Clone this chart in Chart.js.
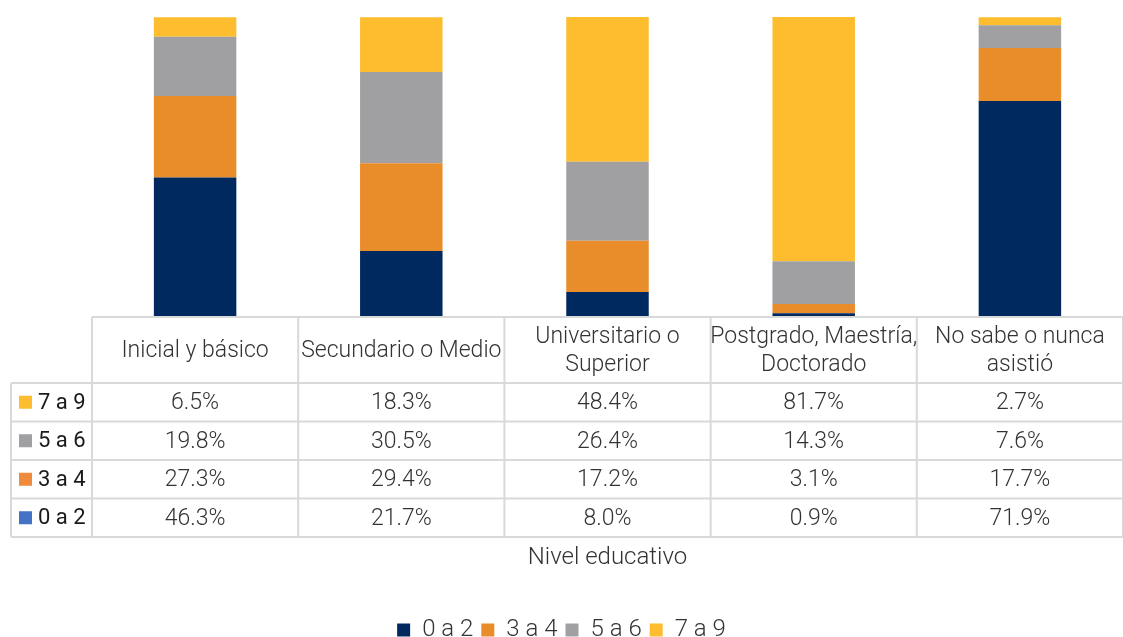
<!DOCTYPE html>
<html>
<head>
<meta charset="utf-8">
<script src="https://cdn.jsdelivr.net/npm/chart.js@4"></script>
<style>
  html, body { margin: 0; padding: 0; background: #fff; }
</style>
</head>
<body>
<canvas id="myChart" width="1123" height="637"></canvas>
<script>
// categorías (nivel educativo)
const categories = ['Inicial y básico', 'Secundario o Medio', 'Universitario o Superior', 'Postgrado, Maestría, Doctorado', 'No sabe o nunca asistió']
const headerLines = [['Inicial y básico'], ['Secundario o Medio'], ['Universitario o', 'Superior'], ['Postgrado, Maestría,', 'Doctorado'], ['No sabe o nunca', 'asistió']]

// series (%)
const seriesNames = ['0 a 2', '3 a 4', '5 a 6', '7 a 9']
const s0a2 = [46.3, 21.7, 8.0, 0.9, 71.9]
const s3a4 = [27.3, 29.4, 17.2, 3.1, 17.7]
const s5a6 = [19.8, 30.5, 26.4, 14.3, 7.6]
const s7a9 = [6.5, 18.3, 48.4, 81.7, 2.7]

const axisTitle = 'Nivel educativo'

const barColors = ['#002A5F', '#E98C2A', '#A0A0A2', '#FDBD2E']
const keyColors = ['#4472C4', '#F08A3C', '#A0A0A2', '#FDBD2E']
const gridColor = '#D9D9D9'
const textColor = '#333333'

const tablePlugin = {
  id: 'dataTable',
  afterDraw(chart) {
    const ctx = chart.ctx
    const area = chart.chartArea
    const xs = chart.scales.x
    const n = categories.length
    const colW = (area.right - area.left) / n
    const top = area.bottom + 1
    const headerH = 66
    const rowH = 38.5
    const tableLeft = 11
    const rows = chart.data.datasets.length
    const bottom = top + headerH + rowH * rows

    ctx.save()
    ctx.strokeStyle = gridColor
    ctx.lineWidth = 2

    // lineas horizontales
    ctx.beginPath()
    ctx.moveTo(area.left, top)
    ctx.lineTo(area.right, top)
    for (let r = 0; r <= rows; r++) {
      let y = top + headerH + r * rowH
      ctx.moveTo(tableLeft, y)
      ctx.lineTo(area.right, y)
    }
    // lineas verticales
    for (let i = 0; i <= n; i++) {
      let x = area.left + i * colW
      ctx.moveTo(x, top)
      ctx.lineTo(x, bottom)
    }
    ctx.moveTo(tableLeft, top + headerH)
    ctx.lineTo(tableLeft, bottom)
    ctx.stroke()

    // encabezados
    ctx.fillStyle = textColor
    ctx.textAlign = 'center'
    ctx.textBaseline = 'middle'
    ctx.font = '300 23px Roboto'
    headerLines.forEach((lines, i) => {
      let cx = xs.getPixelForValue(i)
      let cy = top + headerH / 2 + 1
      if (lines.length === 1) {
        ctx.fillText(lines[0], cx, cy)
      } else {
        ctx.fillText(lines[0], cx, cy - 14)
        ctx.fillText(lines[1], cx, cy + 14)
      }
    })

    // filas, de arriba: 7 a 9 ... 0 a 2
    const sets = chart.data.datasets
    for (let r = 0; r < rows; r++) {
      const di = rows - 1 - r
      const ds = sets[di]
      const cy = top + headerH + r * rowH + rowH / 2
      ctx.fillStyle = keyColors[di]
      ctx.fillRect(19, cy - 6.5, 13, 13)
      ctx.fillStyle = '#1a1a1a'
      ctx.textAlign = 'left'
      ctx.font = '400 22px Roboto'
      ctx.fillText(ds.label, 38, cy + 1)
      ctx.textAlign = 'center'
      ctx.font = '300 23px Roboto'
      ctx.fillStyle = textColor
      ds.data.forEach((v, i) => {
        ctx.fillText(v.toFixed(1) + '%', xs.getPixelForValue(i), cy + 1)
      })
    }

    // titulo del eje
    ctx.font = '300 24px Roboto'
    ctx.fillStyle = textColor
    ctx.fillText(axisTitle, (area.left + area.right) / 2, bottom + 21)
    ctx.restore()
  }
}

const allSeries = [s0a2, s3a4, s5a6, s7a9]

const ctx = document.getElementById('myChart').getContext('2d')
const myChart = new Chart(ctx, {
  type: 'bar',
  data: {
    labels: categories,
    datasets: seriesNames.map((name, i) => ({
      label: name,
      data: allSeries[i],
      backgroundColor: barColors[i],
      borderWidth: 0,
      barPercentage: 0.4,
      categoryPercentage: 1
    }))
  },
  options: {
    responsive: false,
    animation: false,
    layout: {
      padding: { left: 0, right: 0, top: 17, bottom: -15 }
    },
    scales: {
      x: {
        stacked: true,
        grid: { display: false },
        border: { display: false },
        ticks: { display: false },
        afterFit: s => { s.height = 294 }
      },
      y: {
        stacked: true,
        min: 0,
        max: 100,
        grid: { display: false },
        border: { display: false },
        ticks: { display: false },
        afterFit: s => { s.width = 92 }
      }
    },
    plugins: {
      tooltip: { enabled: false },
      legend: {
        position: 'bottom',
        labels: {
          boxWidth: 13,
          boxHeight: 13,
          padding: 8,
          color: textColor,
          font: { family: 'Roboto', size: 24, weight: '300', lineHeight: 1 }
        }
      }
    }
  },
  plugins: [tablePlugin]
})
</script>
</body>
</html>
